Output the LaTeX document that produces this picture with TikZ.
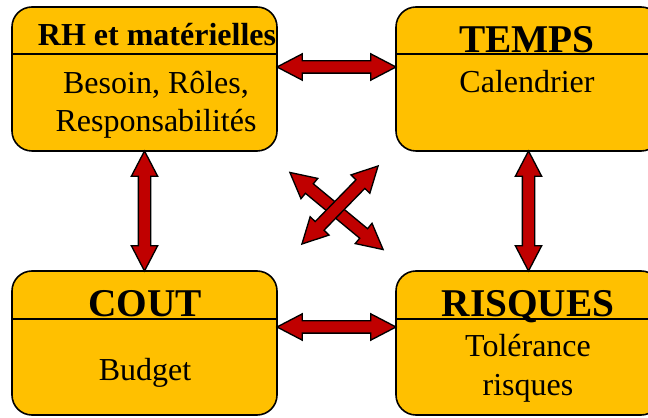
\documentclass[tikz,border=0pt]{standalone}
\usepackage{fontspec}
\setmainfont{Liberation Serif}
\usetikzlibrary{shapes.arrows,calc}
\definecolor{orangeboite}{HTML}{FFC000}
\definecolor{rougefleche}{HTML}{C00000}

\begin{document}
\begin{tikzpicture}[x=0.75pt,y=0.75pt,
    boite/.style={draw,line width=1.2pt,fill=orangeboite,rounded corners=15pt,
      minimum width=198.75pt,minimum height=108pt},
    fleche/.style={double arrow,draw,line width=1pt,fill=rougefleche,
      inner xsep=0pt,inner ysep=4.125pt,
      minimum width=18.75pt,double arrow head extend=5.25pt,double arrow tip angle=55},
    titre/.style={font=\fontsize{29.5}{35}\selectfont\bfseries,anchor=base},
    petittitre/.style={font=\fontsize{24}{28.5}\selectfont\bfseries,anchor=base},
    texte/.style={font=\fontsize{24}{28.5}\selectfont,align=center,anchor=base}]
  \clip (0,0) rectangle (648,417);

  % les quatre boites
  \node[boite] (rh) at (144.5,338) {};
  \node[boite] (temps) at (528.5,338) {};
  \node[boite] (cout) at (144.5,74) {};
  \node[boite] (risques) at (528.5,74) {};

  \draw[line width=1.2pt] (rh.west |- 0,363) -- (rh.east |- 0,363);
  \draw[line width=1.2pt] (temps.west |- 0,363) -- (temps.east |- 0,363);
  \draw[line width=1.2pt] (cout.west |- 0,98) -- (cout.east |- 0,98);
  \draw[line width=1.2pt] (risques.west |- 0,98) -- (risques.east |- 0,98);

  \node[petittitre] (trh) at (157,371) {RH et matérielles};
  \node[titre] (ttemps) at (527,364) {TEMPS};
  \node[titre] (tcout) at (145,100) {COUT};
  \node[titre] (trisques) at (528,100) {RISQUES};

  % base = derniere ligne
  \node[texte] (xrh) at (156,285) {Besoin, Rôles,\\Responsabilités};
  \node[texte] (xtemps) at (527,324) {Calendrier};
  \node[texte] (xcout) at (145,37) {Budget};
  \node[texte] (xrisques) at (528,22) {Tolérance\\risques};

  % les fleches
  \node[fleche,minimum height=89.25pt] (f1) at ($(rh.east)!.5!(temps.west)+(0,12)$) {};
  \node[fleche,minimum height=89.25pt] (f2) at ($(cout.east)!.5!(risques.west)+(0,16)$) {};
  \node[fleche,minimum height=90pt,rotate=90] (f3) at ($(rh.south)!.5!(cout.north)$) {};
  \node[fleche,minimum height=90pt,rotate=90] (f4) at ($(temps.south)!.5!(risques.north)$) {};
  \node[fleche,minimum height=90.75pt,rotate=-39.6] (f5) at ($(rh)!.5!(risques)$) {};
  \node[fleche,minimum height=81.75pt,rotate=45.7] (f6) at ($(temps)!.5!(cout)+(3.5,6)$) {};
\end{tikzpicture}
\end{document}
